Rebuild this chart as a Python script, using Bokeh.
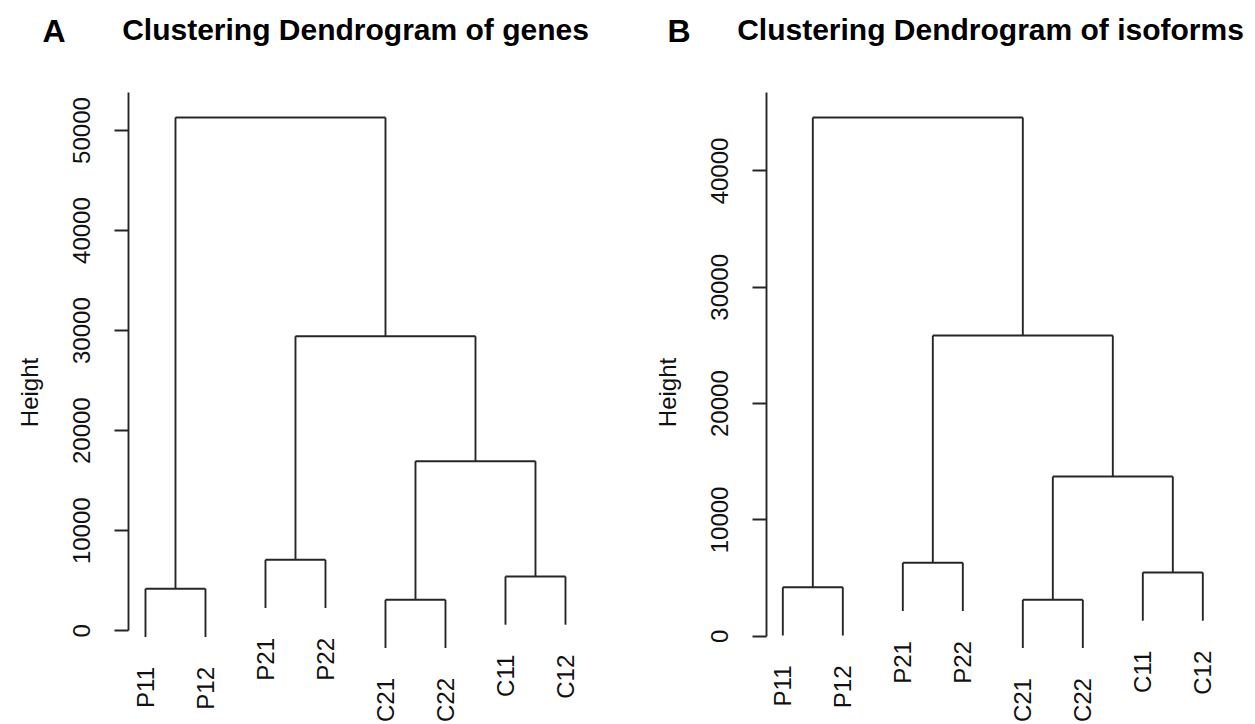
import math
from bokeh.plotting import figure
from bokeh.models import Range1d, FixedTicker, Label, ColumnDataSource
from bokeh.layouts import row, column
from bokeh.embed import file_html
from bokeh.resources import INLINE
from bokeh.core.properties import value

# ---- data ----
leaf_labels = ["P11", "P12", "P21", "P22", "C21", "C22", "C11", "C12"]
# merges: negative = leaf position (1-based, in plotting order), positive = earlier merge (1-based)
merge_left = [-1, -3, -5, -7, 3, 2, 1]
merge_right = [-2, -4, -6, -8, 4, 5, 6]
genes_height = [4200, 7100, 3100, 5430, 16950, 29440, 51300]
isoforms_height = [4210, 6310, 3130, 5480, 13730, 25860, 44600]
genes_ticks = [0, 10000, 20000, 30000, 40000, 50000]
isoforms_ticks = [0, 10000, 20000, 30000, 40000]

LINE = "#262626"
LW = 1.9
FONT = "Liberation Sans"
HEADER_H = 60


def dendro(heights):
    hang = 0.1 * (max(heights) - min(heights))
    node_x = {}
    seg = dict(x0=[], y0=[], x1=[], y1=[])
    leaves = dict(x=[], y=[], text=[])
    for k, (l, r) in enumerate(zip(merge_left, merge_right)):
        h = heights[k]
        xs = []
        for c in (l, r):
            if c < 0:
                cx = -c
                bottom = h - hang
                leaves["x"].append(cx)
                leaves["y"].append(bottom)
                leaves["text"].append(leaf_labels[cx - 1])
            else:
                cx = node_x[c]
                bottom = heights[c - 1]
            seg["x0"].append(cx); seg["x1"].append(cx)
            seg["y0"].append(bottom); seg["y1"].append(h)
            xs.append(cx)
        seg["x0"].append(xs[0]); seg["x1"].append(xs[1])
        seg["y0"].append(h); seg["y1"].append(h)
        node_x[k + 1] = (xs[0] + xs[1]) / 2
    return seg, leaves


def header(title, letter, width, title_x, letter_x):
    h = figure(width=width, height=HEADER_H, output_backend="svg", toolbar_location=None,
               x_range=Range1d(0, width), y_range=Range1d(HEADER_H, 0),
               x_axis_location=None, y_axis_location=None,
               min_border_left=0, min_border_right=0, min_border_top=0,
               min_border_bottom=0, outline_line_color=None)
    h.grid.visible = False
    h.add_layout(Label(x=title_x, y=29, text=title, text_font=FONT,
                       text_font_size="30px", text_font_style="bold",
                       text_align="center", text_baseline="alphabetic",
                       text_color="#000000"))
    h.add_layout(Label(x=letter_x, y=30, text=letter, text_font=FONT,
                       text_font_size="32px", text_font_style="bold",
                       text_align="left", text_baseline="alphabetic",
                       text_color="#000000"))
    return h


def make(heights, ticks, width, border_left, xr, yr, axis_top):
    p = figure(width=width, height=724 - HEADER_H, output_backend="svg",
               toolbar_location=None,
               x_range=Range1d(*xr), y_range=Range1d(*yr), x_axis_location=None,
               min_border_left=border_left, min_border_right=0,
               min_border_top=0, min_border_bottom=0, outline_line_color=None)
    p.grid.visible = False
    ax = p.yaxis[0]
    ax.bounds = (0, axis_top)
    ax.ticker = FixedTicker(ticks=ticks)
    ax.major_tick_out = 14
    ax.major_tick_in = 0
    ax.minor_tick_out = 0
    ax.minor_tick_in = 0
    ax.axis_line_color = LINE
    ax.axis_line_width = LW
    ax.major_tick_line_color = LINE
    ax.major_tick_line_width = LW
    ax.major_label_orientation = "vertical"
    ax.major_label_text_font = FONT
    ax.major_label_text_font_size = "24px"
    ax.major_label_text_color = "#111111"
    ax.major_label_standoff = 24
    ax.axis_label = "Height"
    ax.axis_label_text_font = FONT
    ax.axis_label_text_font_size = "24px"
    ax.axis_label_text_font_style = "normal"
    ax.axis_label_text_color = "#111111"
    ax.axis_label_standoff = 28

    seg, leaves = dendro(heights)
    p.segment(x0="x0", y0="y0", x1="x1", y1="y1", source=ColumnDataSource(seg),
              line_color=LINE, line_width=LW)
    p.text(x="x", y="y", text="text", source=ColumnDataSource(leaves),
           angle=math.pi / 2, text_align="right", text_baseline="middle",
           y_offset=30, text_font=value(FONT), text_font_size="24px",
           text_color="#111111")
    return p


hA = header("Clustering Dendrogram of genes", "A", 637, 355, 42)
hB = header("Clustering Dendrogram of isoforms", "B", 618, 990 - 637, 667 - 637)

pA = make(genes_height, genes_ticks, 637, 128,
          (0.717, 0.717 + 509 / 60.0), (-9364, 56996), 53800)
pB = make(isoforms_height, isoforms_ticks, 618, 129,
          (0.728, 0.728 + 489 / 60.0), (-7592, 49501), 46770)

layout = column(row(hA, hB), row(pA, pB))
open("out.html", "w").write(file_html(layout, INLINE))
